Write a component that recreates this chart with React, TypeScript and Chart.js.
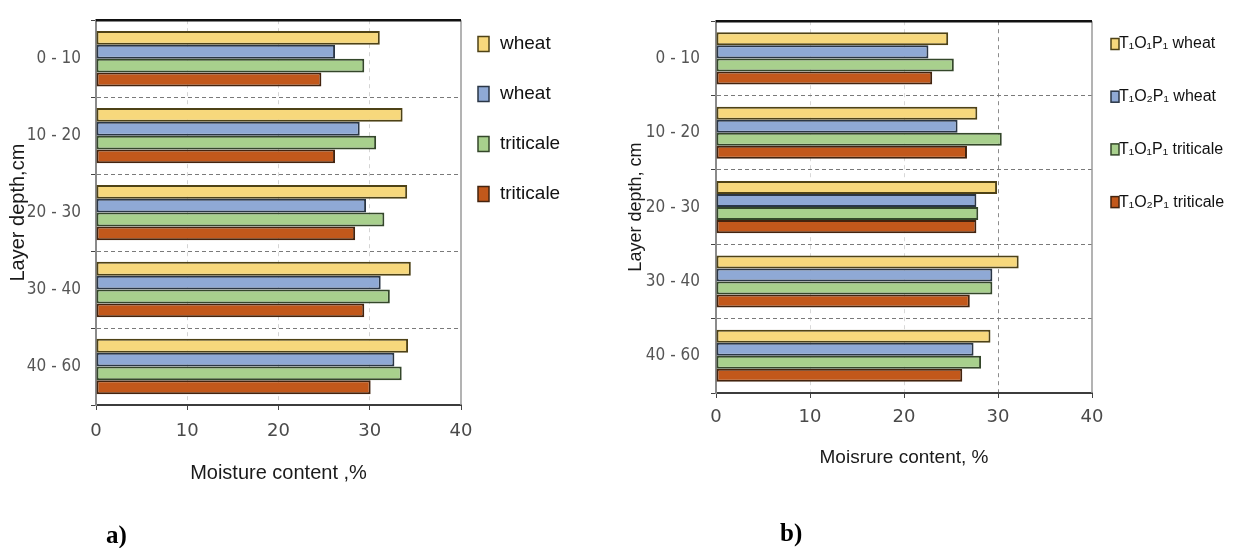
import React, { useEffect, useRef } from "react";
import { Chart, registerables } from "chart.js";

Chart.register(...registerables);

// ---------- data ----------
const depthLabels = ["0 - 10", "10 - 20", "20 - 30", "30 - 40", "40 - 60"];

const legendA = ["wheat", "wheat", "triticale", "triticale"];
const legendB = ["T₁O₁P₁ wheat", "T₁O₂P₁ wheat", "T₁O₁P₁ triticale", "T₁O₂P₁ triticale"];

// chart a)
const aSeries1 = [31.1, 33.6, 34.1, 34.5, 34.2];
const aSeries2 = [26.2, 28.9, 29.6, 31.2, 32.7];
const aSeries3 = [29.4, 30.7, 31.6, 32.2, 33.5];
const aSeries4 = [24.7, 26.2, 28.4, 29.4, 30.1];

// chart b)
const bSeries1 = [24.7, 27.8, 29.9, 32.2, 29.2];
const bSeries2 = [22.6, 25.7, 27.7, 29.4, 27.4];
const bSeries3 = [25.3, 30.4, 27.9, 29.4, 28.2];
const bSeries4 = [23.0, 26.7, 27.7, 27.0, 26.2];

const xMin = 0;
const xMax = 40;
const xStep = 10;

// ---------- styles ----------
const fills = ["#F7D87C", "#8FA9D5", "#A8D08D", "#C2581B"];
const borders = ["#4E4216", "#2A3646", "#34472A", "#43230E"];

const sideLegend = {
  id: "sideLegend",
  afterDraw(chart: any, _args: any, opts: any) {
    const ctx = chart.ctx;
    ctx.save();
    chart.data.datasets.forEach((ds: any, i: number) => {
      const cy = opts.y0 + i * opts.dy;
      ctx.fillStyle = ds.backgroundColor;
      ctx.strokeStyle = ds.borderColor;
      ctx.lineWidth = 1.5;
      ctx.fillRect(opts.boxX, cy - opts.boxH / 2, opts.boxW, opts.boxH);
      ctx.strokeRect(opts.boxX, cy - opts.boxH / 2, opts.boxW, opts.boxH);
      ctx.fillStyle = "#111";
      ctx.font = opts.font;
      ctx.textBaseline = "middle";
      ctx.textAlign = "left";
      ctx.fillText(ds.label, opts.textX, cy);
    });
    ctx.restore();
  },
};

const frame = {
  id: "frame",
  afterDraw(chart: any) {
    const { ctx, chartArea: a } = chart;
    ctx.save();
    ctx.strokeStyle = "#9a9a9a";
    ctx.lineWidth = 1.5;
    ctx.beginPath();
    ctx.moveTo(a.right, a.top);
    ctx.lineTo(a.right, a.bottom);
    ctx.stroke();
    ctx.strokeStyle = "#111";
    ctx.lineWidth = 2.5;
    ctx.beginPath();
    ctx.moveTo(a.left, a.top);
    ctx.lineTo(a.right, a.top);
    ctx.stroke();
    ctx.restore();
  },
};

type Cfg = {
  series: number[][];
  names: string[];
  yTitle: string;
  xTitle: string;
  width: number;
  padRight: number;
  xAxisH: number;
  catPct: number;
  xTickPad: number;
  yTickPad: number;
  xTitlePadBottom: number;
  xTitleSize: number;
  yTitleSize: number;
  yTitlePadTop: number;
  vGrid: (v: number) => string;
  legend: any;
};

function BarPanel({ cfg }: { cfg: Cfg }) {
  const ref = useRef<HTMLCanvasElement | null>(null);
  useEffect(() => {
    if (!ref.current) return;
    const chart = new Chart(ref.current, {
      type: "bar",
      data: {
        labels: depthLabels,
        datasets: cfg.series.map((s, i) => ({
          label: cfg.names[i],
          data: s,
          backgroundColor: fills[i],
          borderColor: borders[i],
          borderWidth: 2,
          borderSkipped: false,
          categoryPercentage: cfg.catPct,
          barPercentage: 1,
        })),
      },
      options: {
        indexAxis: "y",
        responsive: false,
        animation: false,
        devicePixelRatio: 1,
        layout: { padding: { top: 16, right: cfg.padRight, left: 0, bottom: 0 } },
        plugins: {
          legend: { display: false },
          tooltip: { enabled: false },
          sideLegend: cfg.legend,
        } as any,
        scales: {
          x: {
            type: "linear",
            min: xMin,
            max: xMax,
            ticks: {
              stepSize: xStep,
              padding: cfg.xTickPad,
              color: "#4a4a4a",
              font: { family: "'DejaVu Sans', sans-serif", size: 18 },
            },
            grid: {
              color: (c: any) => cfg.vGrid(c.tick ? c.tick.value : 0),
              lineWidth: 1,
              drawTicks: true,
              tickLength: 5,
              tickColor: "#444",
              tickBorderDash: [],
            } as any,
            border: { display: true, color: "#3c3c3c", width: 2, dash: [4, 4] } as any,
            title: {
              display: true,
              text: cfg.xTitle,
              color: "#1a1a1a",
              font: { family: "'Liberation Sans', Arial, sans-serif", size: cfg.xTitleSize },
              padding: { top: 0, bottom: cfg.xTitlePadBottom },
            },
            afterFit: (s: any) => {
              s.height = cfg.xAxisH;
            },
          },
          y: {
            type: "category",
            offset: true,
            ticks: {
              padding: cfg.yTickPad,
              color: "#555",
              font: { family: "'DejaVu Sans Condensed', 'DejaVu Sans', sans-serif", size: 17 },
            },
            grid: {
              offset: true,
              color: "#7a7a7a",
              lineWidth: 1,
              drawTicks: true,
              tickLength: 5,
              tickColor: "#444",
              tickBorderDash: [],
            } as any,
            border: { display: true, color: "#8a8a8a", width: 2, dash: [4, 3] } as any,
            title: {
              display: true,
              text: cfg.yTitle,
              color: "#1a1a1a",
              font: { family: "'Liberation Sans', Arial, sans-serif", size: cfg.yTitleSize },
              padding: { top: cfg.yTitlePadTop, bottom: 0 },
            },
            afterFit: (s: any) => {
              s.width = 96;
            },
          },
        },
      } as any,
      plugins: [sideLegend, frame],
    });
    return () => chart.destroy();
  }, [cfg]);
  return <canvas ref={ref} width={cfg.width} height={548} style={{ width: cfg.width, height: 548, display: "block" }} />;
}

const cfgA: Cfg = {
  series: [aSeries1, aSeries2, aSeries3, aSeries4],
  names: legendA,
  yTitle: "Layer depth,cm",
  xTitle: "Moisture content ,%",
  width: 620,
  padRight: 159,
  xAxisH: 143,
  catPct: 0.72,
  xTickPad: 11,
  yTickPad: 10,
  xTitlePadBottom: 63,
  xTitleSize: 20,
  yTitleSize: 20,
  yTitlePadTop: 6,
  vGrid: (v) => (v === 10 || v === 20 || v === 30 ? "#d4d4d4" : "rgba(0,0,0,0)"),
  legend: { boxX: 478, boxW: 11, boxH: 15, textX: 500, y0: 44, dy: 50, font: "19px 'Liberation Sans', Arial, sans-serif" },
};

const cfgB: Cfg = {
  series: [bSeries1, bSeries2, bSeries3, bSeries4],
  names: legendB,
  yTitle: "Layer depth, cm",
  xTitle: "Moisrure content, %",
  width: 617,
  padRight: 145,
  xAxisH: 155,
  catPct: 0.7,
  xTickPad: 9,
  yTickPad: 11,
  xTitlePadBottom: 79,
  xTitleSize: 19,
  yTitleSize: 18,
  yTitlePadTop: 5,
  vGrid: (v) => (v === 30 ? "#8c8c8c" : v === 10 || v === 20 ? "#d8d8d8" : "rgba(0,0,0,0)"),
  legend: { boxX: 491, boxW: 8, boxH: 11, textX: 499, y0: 44, dy: 52.7, font: "16px 'Liberation Sans', Arial, sans-serif" },
};

export default function App() {
  return (
    <div style={{ position: "fixed", left: 0, top: 0, width: 1237, height: 548, background: "#fff", overflow: "hidden" }}>
      <div style={{ position: "absolute", left: 0, top: 0 }}>
        <BarPanel cfg={cfgA} />
      </div>
      <div style={{ position: "absolute", left: 620, top: 0 }}>
        <BarPanel cfg={cfgB} />
      </div>
      <div
        style={{
          position: "absolute",
          left: 106,
          top: 520,
          font: "bold 25px 'Liberation Serif', 'Times New Roman', serif",
          color: "#000",
          lineHeight: "30px",
        }}
      >
        a)
      </div>
      <div
        style={{
          position: "absolute",
          left: 780,
          top: 518,
          font: "bold 25px 'Liberation Serif', 'Times New Roman', serif",
          color: "#000",
          lineHeight: "30px",
        }}
      >
        b)
      </div>
    </div>
  );
}
